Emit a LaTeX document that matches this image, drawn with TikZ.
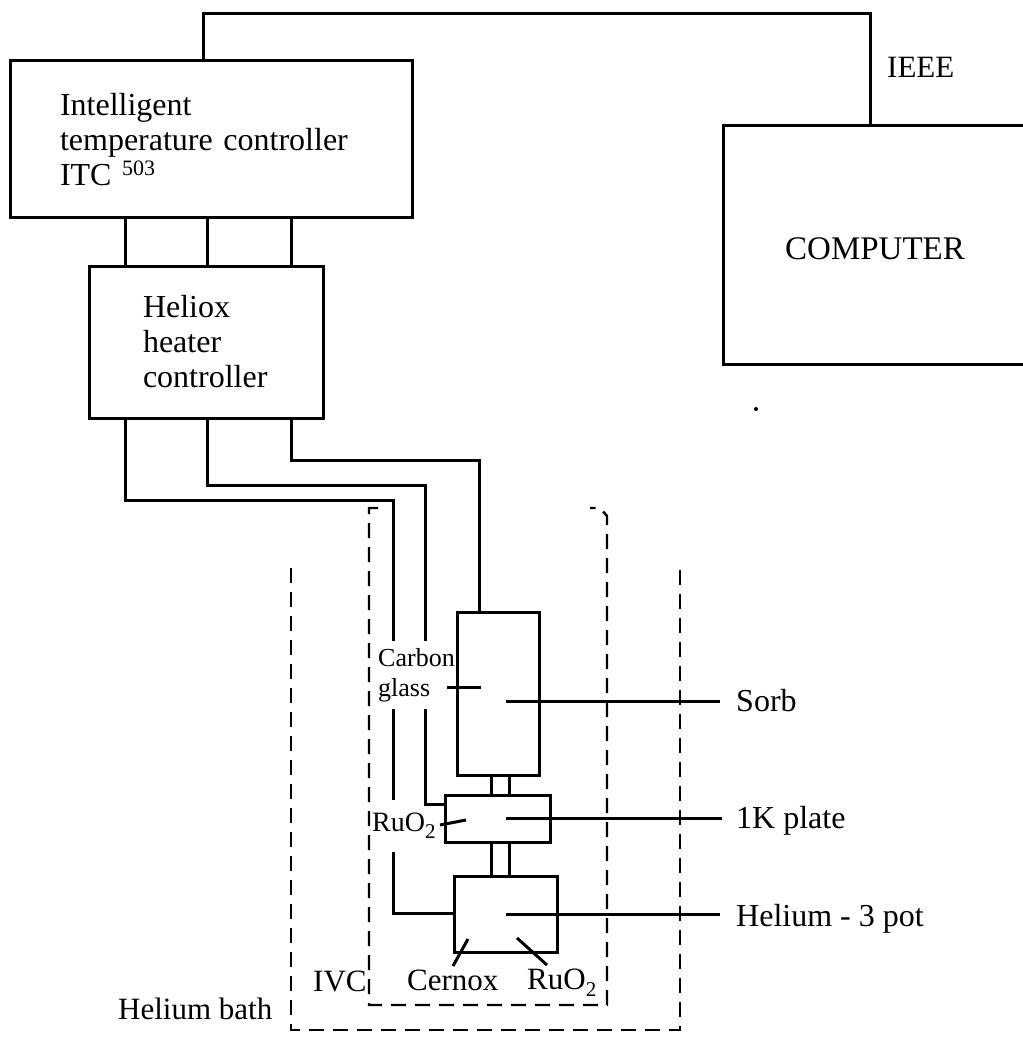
\documentclass[tikz,border=0pt]{standalone}
\usepackage{fontspec}
\setmainfont{Liberation Serif}
\usetikzlibrary{positioning}

\newcommand{\lowtwo}{\raisebox{-7pt}{\fontsize{21}{21}\selectfont 2}}

\tikzset{
    unitbox/.style={rectangle, draw, line width=3pt, align=left, inner sep=0pt, outer sep=0pt, font=\fontsize{32}{35}\selectfont},
    wire/.style={line width=3pt},
    dashwall/.style={line width=2.4pt, dash pattern=on 15pt off 9pt},
    lbl/.style={inner sep=0pt, font=\fontsize{31}{35}\selectfont},
    biglbl/.style={inner sep=0pt, font=\fontsize{32}{35}\selectfont},
    smalllbl/.style={inner sep=0pt, align=left, font=\fontsize{26}{30}\selectfont},
}

\begin{document}
\begin{tikzpicture}[x=1pt, y=-1pt]
    \useasboundingbox (0,0) rectangle (1022,1059);

    % Nodes
    \node [unitbox, minimum width=402pt, minimum height=157pt, text width=302pt, anchor=north west] (itc) at (10,61) {Intelligent\\temperature controller\\ITC \raisebox{10pt}{\fontsize{22}{22}\selectfont 503}\\[16pt]};
    \node [unitbox, minimum width=234pt, minimum height=152pt, text width=126pt, below=48pt of itc.south west, anchor=north west, xshift=79pt] (heliox) {Heliox\\heater\\controller};
    \node [unitbox, minimum width=302pt, minimum height=238pt, anchor=north west] (computer) at (723,126) {};
    \node [lbl, font=\fontsize{33}{35}\selectfont, anchor=west] (computertext) at (785,249) {COMPUTER};
    \node [lbl, anchor=west] (ieee) at (887,67) {IEEE};

    \node [unitbox, minimum width=82pt, minimum height=163pt, anchor=north west] (sorb) at (457,612) {};
    \node [unitbox, minimum width=105pt, minimum height=47pt, below=20pt of sorb.south west, anchor=north west, xshift=-12pt] (plate) {};
    \node [unitbox, minimum width=103pt, minimum height=76pt, below=34pt of plate.south west, anchor=north west, xshift=9pt] (pot) {};

    \node [biglbl, anchor=west] (sorbtext) at (736,701) {Sorb};
    \node [biglbl, anchor=west] (platetext) at (736,821) {1K plate};
    \node [biglbl, anchor=west] (pottext) at (736,919) {Helium - 3 pot};

    \node [smalllbl, anchor=north west, minimum height=68pt] (carbon) at (378,641) {Carbon\\glass};
    \node [lbl, font=\fontsize{28}{28}\selectfont, anchor=north west, minimum height=52pt] (ruo) at (372,800) {RuO\lowtwo};
    \node [lbl, anchor=west] (cernox) at (407,980) {Cernox};
    \node [lbl, anchor=west] (ruob) at (527,983) {RuO\lowtwo};
    \node [lbl, anchor=west] (ivc) at (313,981) {IVC};
    \node [lbl, anchor=west] (bath) at (118,1009) {Helium bath};

    % Coordinates
    \coordinate (a1) at (125,0);
    \coordinate (a2) at (207,0);
    \coordinate (a3) at (291,0);
    \coordinate (w1) at (393,500);
    \coordinate (w2) at (425,485);
    \coordinate (w3) at (479,460);
    \coordinate (top) at (203,14);
    \coordinate (toptwo) at (870,14);
    \coordinate (platein) at (445,804);
    \coordinate (potin) at (454,913);
    \coordinate (leg1) at (491,0);
    \coordinate (leg2) at (509,0);
    \coordinate (sorbin) at (506,701);
    \coordinate (platein2) at (506,818);
    \coordinate (potin2) at (506,914);
    \coordinate (sorbout) at (720,701);
    \coordinate (plateout) at (722,818);
    \coordinate (potout) at (720,914);

    % Edges
    \draw [wire] (top |- itc.north) -- (top) -- (toptwo) -- (toptwo |- computer.north);
    \foreach \link in {a1, a2, a3} {
        \draw [wire] (\link |- itc.south) -- (\link |- heliox.north);
    }
    \draw [wire] (a1 |- heliox.south) |- (w1) -- (w1 |- carbon.north);
    \draw [wire] (a2 |- heliox.south) |- (w2) -- (w2 |- carbon.north);
    \draw [wire] (a3 |- heliox.south) |- (w3) -- (w3 |- sorb.north);
    \draw [wire] (w1 |- carbon.south) -- (w1 |- ruo.north);
    \draw [wire] (w1 |- ruo.south) |- (potin);
    \draw [wire] (w2 |- carbon.south) |- (platein);
    \foreach \leg in {leg1, leg2} {
        \draw [wire] (\leg |- sorb.south) -- (\leg |- plate.north);
        \draw [wire] (\leg |- plate.south) -- (\leg |- pot.north);
    }
    \draw [wire] (sorbin) -- (sorbout);
    \draw [wire] (platein2) -- (plateout);
    \draw [wire] (potin2) -- (potout);

    % Sensor ticks
    \coordinate (cgtick) at (481,687);
    \coordinate (rutick) at (466,820);
    \coordinate (cetick) at (468,939);
    \coordinate (rbtick) at (517,938);
    \draw [wire] (cgtick) -- ++(-34,0);
    \draw [wire] (rutick) -- ++(-26,5);
    \draw [wire] (cetick) -- ++(-15,27);
    \draw [wire] (rbtick) -- ++(30,27);

    % Dashed walls
    \draw [dashwall] (378,508) -- (369,508) -- (369,1005) -- (607,1005) -- (607,516) -- (600,508) -- (590,508);
    \draw [dashwall] (291,568) -- (291,1030) -- (680,1030) -- (680,565);

    % Speck
    \fill (756,409) circle (2pt);
\end{tikzpicture}
\end{document}
